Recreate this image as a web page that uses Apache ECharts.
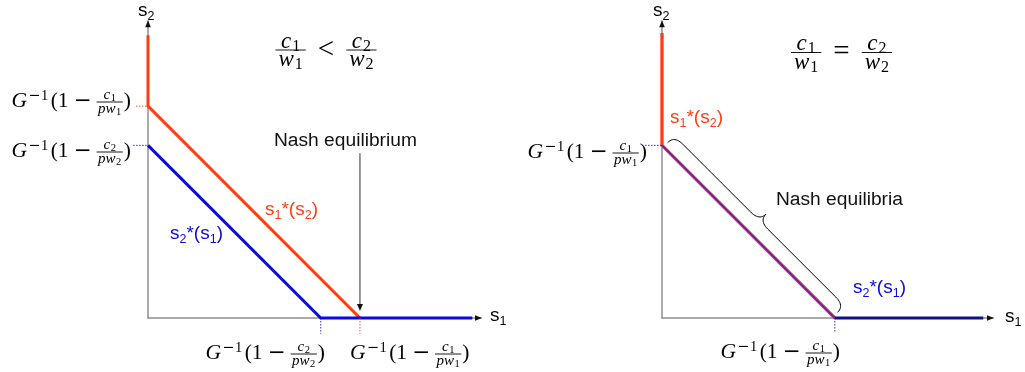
<!DOCTYPE html>
<html><head><meta charset="utf-8">
<script src="https://cdn.jsdelivr.net/npm/echarts@6/dist/echarts.min.js"></script>
<style>html,body{margin:0;padding:0;background:#fff}#c{width:1025px;height:372px}</style>
</head><body><div id="c"></div>
<script>
// ---------------- data (axis units) ----------------
const leftXMax = 1.571, leftYMax = 1.401;
const rightXMax = 1.561, rightYMax = 1.401;
// left panel: c1/w1 < c2/w2
const leftRed  = [[0, 1.335], [0, 1.0], [1.0, 0]];
const leftBlue = [[0, 0.815], [0.815, 0], [1.53, 0]];
const leftRedGuideY  = [[-0.057, 1.0], [0, 1.0]];
const leftRedGuideX  = [[1.0, 0], [1.0, -0.075]];
const leftBlueGuideY = [[-0.07, 0.815], [0, 0.815]];
const leftBlueGuideX = [[0.815, 0], [0.815, -0.075]];
const nashArrow = [[1.0, 0.778], [1.0, 0.033]];
// right panel: c1/w1 = c2/w2
const rightRed      = [[0, 1.345], [0, 0.815], [0.815, 0]];
const rightBlueDiag = [[0, 0.815], [0.815, 0]];
const rightBlueFlat = [[0.815, 0], [1.515, 0]];
const rightGuideY   = [[-0.08, 0.815], [0, 0.815]];
const rightGuideX   = [[0.815, 0], [0.815, -0.07]];
const braceEnds     = [[0, 0.815], [0.815, 0]];

// ---------------- styles ----------------
const RED = '#ff3d12', BLUE = '#0a0ae0', NAVY = '#10108f', AXIS = '#8f8f8f';
const SERIF = '"Liberation Serif", "Times New Roman", serif';
const MINUSF = '"DejaVu Serif", serif';
const SANS = '"Liberation Sans", Arial, sans-serif';

const chart = echarts.init(document.getElementById('c'), null, {renderer: 'canvas'});

const ls = (i, data, color, width, type, z) => ({
  type: 'line', xAxisIndex: i, yAxisIndex: i, data, symbol: 'none', showSymbol: false,
  clip: false, silent: true, animation: false, z: z || 2,
  lineStyle: {color, width, type: type || 'solid', cap: 'butt', join: 'miter'}
});
const mkAxis = (gi, max) => ({
  type: 'value', gridIndex: gi, min: 0, max,
  axisLine: {show: true, onZero: false, lineStyle: {color: AXIS, width: 1.5}},
  axisTick: {show: false}, axisLabel: {show: false}, splitLine: {show: false}
});

chart.setOption({
  animation: false,
  backgroundColor: '#fff',
  grid: [
    {left: 148, top: 21.2, width: 333.0, height: 296.8, outerBoundsMode: 'none'},
    {left: 662, top: 21.2, width: 331.0, height: 296.8, outerBoundsMode: 'none'}
  ],
  xAxis: [mkAxis(0, leftXMax), mkAxis(1, rightXMax)],
  yAxis: [mkAxis(0, leftYMax), mkAxis(1, rightYMax)],
  series: [
    ls(0, leftRed, RED, 3, 'solid', 3),
    ls(0, leftBlue, BLUE, 3, 'solid', 4),
    ls(1, rightRed, RED, 3.3, 'solid', 3),
    ls(1, rightBlueDiag, '#2a2aff', 1.5, 'solid', 4),
    ls(1, rightBlueFlat, NAVY, 3, 'solid', 4)
  ]
});

// ---------------- math text layout helper ----------------
const mctx = document.createElement('canvas').getContext('2d');
const fontOf = tk => (tk.i ? 'italic ' : '') + tk.s + 'px ' + (tk.f || SERIF);
function measure(tk) { mctx.font = fontOf(tk); return mctx.measureText(tk.t).width; }
function midToBase(font) { mctx.font = font; mctx.textBaseline = 'middle'; return mctx.measureText('x').actualBoundingBoxDescent; }
function layout(tokens) {
  let x = 0; const items = [], bars = [];
  tokens.forEach(tk => {
    x += tk.pre || 0;
    if (tk.frac) {
      const n = layout(tk.num), d = layout(tk.den);
      const pad = tk.pad || 1.5;
      const w = Math.max(n.width, d.width) + 2 * pad;
      n.items.forEach(it => items.push(Object.assign({}, it, {x: x + (w - n.width) / 2 + it.x, y: it.y - tk.axis - tk.nb})));
      d.items.forEach(it => items.push(Object.assign({}, it, {x: x + (w - d.width) / 2 + it.x, y: it.y - tk.axis + tk.db})));
      bars.push({x1: x, x2: x + w, y: -tk.axis, lw: tk.lw || 0.9});
      x += w + (tk.gap || 0);
    } else {
      const w = measure(tk);
      items.push(Object.assign({}, tk, {x: x, y: tk.dy || 0}));
      x += w + (tk.gap || 0);
    }
  });
  return {width: x, items, bars};
}
function place(tokens, x, base, align, color) {
  const L = layout(tokens);
  const x0 = align === 'right' ? x - L.width : align === 'center' ? x - L.width / 2 : x;
  const els = [];
  L.items.forEach(it => {
    const font = fontOf(it);
    els.push({type: 'text', silent: true, z: 100,
      style: {text: it.t, x: x0 + it.x, y: base + it.y - midToBase(font), font, fill: color || '#000',
              align: 'left', verticalAlign: 'middle'}});
  });
  L.bars.forEach(b => els.push({type: 'line', silent: true, z: 100,
    shape: {x1: x0 + b.x1, y1: base + b.y, x2: x0 + b.x2, y2: base + b.y},
    style: {stroke: color || '#000', lineWidth: b.lw}}));
  return els;
}
function gTokens(ci, wi) {
  return [
    {t: 'G', s: 21.5, i: true, gap: 1.2},
    {t: '−', s: 14.5, f: MINUSF, dy: -7.5, gap: 0.5},
    {t: '1', s: 14.5, dy: -7.5, gap: 2.5},
    {t: '(', s: 21.5},
    {t: '1', s: 21.5, gap: 5},
    {t: '−', s: 21.5, f: MINUSF, gap: 5},
    {frac: true, axis: 5, nb: 3, db: 10.5, pad: 1.5, gap: 1,
      num: [{t: 'c', s: 15, i: true, gap: 0.5}, {t: ci, s: 10.5, dy: 2}],
      den: [{t: 'pw', s: 15, i: true, gap: 0.5}, {t: wi, s: 10.5, dy: 2}]},
    {t: ')', s: 21.5}
  ];
}
function titleTokens(rel) {
  const fr = k => ({frac: true, axis: 5.5, nb: 2.5, db: 16, pad: 3,
    num: [{t: 'c', s: 23, i: true, gap: 1}, {t: k, s: 16, dy: 3}],
    den: [{t: 'w', s: 23, i: true, gap: 1}, {t: k, s: 16, dy: 3}]});
  return [Object.assign(fr('1'), {gap: 12}), {t: rel, s: 29, dy: 2, gap: 12}, fr('2')];
}
const sTok = (a, b) => [
  {t: 's', s: 19, f: SANS}, {t: a, s: 12.5, f: SANS, dy: 4},
  {t: '*(s', s: 19, f: SANS}, {t: b, s: 12.5, f: SANS, dy: 4}, {t: ')', s: 19, f: SANS}
];
const axTok = a => [{t: 's', s: 19, f: SANS}, {t: a, s: 12.5, f: SANS, dy: 4}];

// ---------------- annotations ----------------
const px = (gi, p) => chart.convertToPixel({gridIndex: gi}, p);
let G = [];
// dotted guide lines
[[0, leftRedGuideY, RED], [0, leftRedGuideX, RED], [0, leftBlueGuideY, BLUE], [0, leftBlueGuideX, BLUE],
 [1, rightGuideY, BLUE], [1, rightGuideX, BLUE]].forEach(([gi, seg, col]) => {
  const a = px(gi, seg[0]), b = px(gi, seg[1]);
  G.push({type: 'line', silent: true, z: 40, shape: {x1: a[0], y1: a[1], x2: b[0], y2: b[1]},
    style: {stroke: col, lineWidth: 1, lineDash: [1.5, 1.5], opacity: 0.85}});
});
// axis arrows
[[0, leftXMax, leftYMax], [1, rightXMax, rightYMax]].forEach(([gi, xm, ym]) => {
  const xe = px(gi, [xm, 0]), ye = px(gi, [0, ym]);
  G.push({type: 'polygon', silent: true, z: 50, shape: {points: [[xe[0] + 1, xe[1]], [xe[0] - 6, xe[1] - 2.8], [xe[0] - 6, xe[1] + 2.8]]}, style: {fill: '#111'}});
  G.push({type: 'polygon', silent: true, z: 50, shape: {points: [[ye[0], ye[1] - 1], [ye[0] - 2.8, ye[1] + 6], [ye[0] + 2.8, ye[1] + 6]]}, style: {fill: '#111'}});
});
// Nash equilibrium pointer
{
  const a = px(0, nashArrow[0]), b = px(0, nashArrow[1]);
  G.push({type: 'line', silent: true, z: 50, shape: {x1: a[0], y1: a[1], x2: b[0], y2: b[1] - 5}, style: {stroke: '#333', lineWidth: 1}});
  G.push({type: 'polygon', silent: true, z: 50, shape: {points: [[b[0], b[1]], [b[0] - 3, b[1] - 7], [b[0] + 3, b[1] - 7]]}, style: {fill: '#111'}});
}
// curly brace (right panel), drawn as a polyline sampled from quadratic curves
{
  const p1 = px(1, braceEnds[0]), p2 = px(1, braceEnds[1]);
  const dx = p2[0] - p1[0], dy = p2[1] - p1[1], len = Math.hypot(dx, dy);
  const u = [dx / len, dy / len], n = [u[1], -u[0]];
  const off = 6, s0 = 2, s1 = len - 2, h = 19, q = 12, mid = (s0 + s1) / 2, hh = h / 2;
  const P = (a, b) => [p1[0] + u[0] * a + n[0] * (b + off), p1[1] + u[1] * a + n[1] * (b + off)];
  const pts = [];
  const quad = (A, C, B) => { for (let k = 0; k <= 12; k++) { const t = k / 12, m = 1 - t;
    pts.push([m * m * A[0] + 2 * m * t * C[0] + t * t * B[0], m * m * A[1] + 2 * m * t * C[1] + t * t * B[1]]); } };
  quad(P(s0, 0), P(s0, hh), P(s0 + q, hh));
  quad(P(mid - q, hh), P(mid, hh), P(mid, h));
  quad(P(mid, h), P(mid, hh), P(mid + q, hh));
  quad(P(s1 - q, hh), P(s1, hh), P(s1, 0));
  G.push({type: 'polyline', silent: true, z: 50, shape: {points: pts}, style: {stroke: '#000', lineWidth: 1, fill: null}});
}
// math labels
G = G.concat(place(gTokens('1', '1'), 131, 107, 'right'));
G = G.concat(place(gTokens('2', '2'), 131, 157, 'right'));
G = G.concat(place(gTokens('2', '2'), 325, 359, 'right'));
G = G.concat(place(gTokens('1', '1'), 350, 359, 'left'));
G = G.concat(place(titleTokens('<'), 326, 55.5, 'center'));
G = G.concat(place(gTokens('1', '1'), 647, 158, 'right'));
G = G.concat(place(gTokens('1', '1'), 840, 358, 'right'));
G = G.concat(place(titleTokens('='), 841.5, 58, 'center'));
// sans labels
G = G.concat(place([{t: 'Nash equilibrium', s: 19.2, f: SANS}], 274, 146, 'left', '#111'));
G = G.concat(place([{t: 'Nash equilibria', s: 19.2, f: SANS}], 776, 205, 'left', '#111'));
G = G.concat(place(sTok('1', '2'), 265, 215, 'left', RED));
G = G.concat(place(sTok('2', '1'), 170, 239, 'left', BLUE));
G = G.concat(place(sTok('1', '2'), 670, 123, 'left', RED));
G = G.concat(place(sTok('2', '1'), 853, 293, 'left', BLUE));
G = G.concat(place(axTok('2'), 138, 16, 'left', '#000'));
G = G.concat(place(axTok('2'), 653, 16, 'left', '#000'));
G = G.concat(place(axTok('1'), 490, 321, 'left', '#000'));
G = G.concat(place(axTok('1'), 1005, 322, 'left', '#000'));

chart.setOption({graphic: G});
</script>
</body></html>
